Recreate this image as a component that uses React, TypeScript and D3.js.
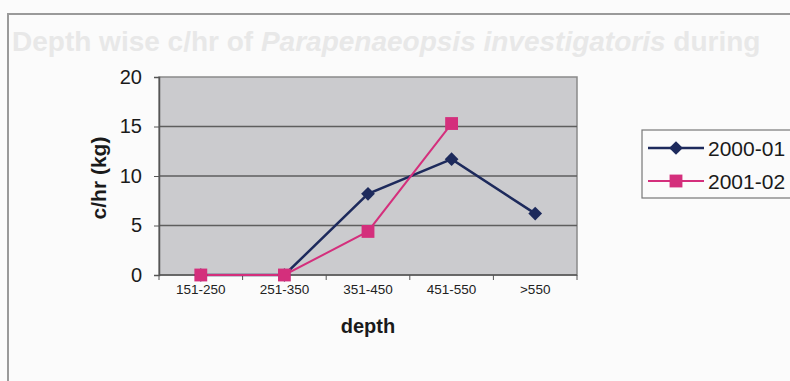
import React, { useEffect, useRef } from 'react';
import * as d3 from 'd3';

const categories = ['151-250', '251-350', '351-450', '451-550', '>550'];
const series2000 = [0, 0, 8.2, 11.7, 6.2];
const series2001 = [0, 0, 4.4, 15.3];
const yTicks = [0, 5, 10, 15, 20];
const seriesNames = ['2000-01', '2001-02'];

const WIDTH = 790;
const HEIGHT = 381;
const PLOT = { left: 159, right: 577, top: 77, bottom: 275 };
const NAVY = '#1d2a5c';
const PINK = '#d42f7c';

const App = () => {
    const ref = useRef<SVGSVGElement>(null);

    useEffect(() => {
        const svg = d3.select(ref.current);
        svg.selectAll('*').remove();

        svg.append('rect')
            .attr('width', WIDTH)
            .attr('height', HEIGHT)
            .attr('fill', '#fbfbfb');

        // ghost text showing through from the scanned page
        const ghost = svg.append('text')
            .attr('x', 12)
            .attr('y', 51)
            .style('font-family', 'Liberation Sans, Arial, sans-serif')
            .style('font-size', '28px')
            .style('font-weight', 'bold')
            .attr('fill', '#e8e8e8');
        ghost.append('tspan').text('Depth wise c/hr of ');
        ghost.append('tspan').style('font-style', 'italic').text('Parapenaeopsis investigatoris');
        ghost.append('tspan').text(' during');

        // outer frame
        svg.append('path')
            .attr('d', `M8,${HEIGHT + 5} V14 H${WIDTH + 5}`)
            .attr('fill', 'none')
            .attr('stroke', '#9a9a9a')
            .attr('stroke-width', 2);

        const x = d3.scaleBand<string>()
            .domain(categories)
            .range([PLOT.left, PLOT.right]);

        const y = d3.scaleLinear()
            .domain([0, 20])
            .range([PLOT.bottom, PLOT.top]);

        // plot area
        svg.append('rect')
            .attr('x', PLOT.left)
            .attr('y', PLOT.top)
            .attr('width', PLOT.right - PLOT.left)
            .attr('height', PLOT.bottom - PLOT.top)
            .attr('fill', '#cbcbce')
            .attr('stroke', '#8a8a8a')
            .attr('stroke-width', 1.5);

        // gridlines
        svg.append('g')
            .selectAll('line')
            .data(yTicks.filter(d => d > 0 && d < 20))
            .enter().append('line')
            .attr('x1', PLOT.left)
            .attr('x2', PLOT.right)
            .attr('y1', d => y(d))
            .attr('y2', d => y(d))
            .attr('stroke', '#5e5e5e')
            .attr('stroke-width', 1.6);

        // y axis
        const yAxis = svg.append('g')
            .attr('transform', `translate(${PLOT.left},0)`)
            .call(d3.axisLeft(y).tickValues(yTicks).tickSize(5).tickPadding(12));
        yAxis.select('.domain').attr('stroke', '#555').attr('stroke-width', 1.5);
        yAxis.selectAll('line').attr('stroke', '#555');
        yAxis.selectAll('text')
            .style('font-family', 'Liberation Sans, Arial, sans-serif')
            .style('font-size', '20px')
            .attr('fill', '#1a1a1a');

        // x axis, ticks between categories
        const xAxisG = svg.append('g')
            .attr('transform', `translate(0,${PLOT.bottom})`);
        xAxisG.append('line')
            .attr('x1', PLOT.left)
            .attr('x2', PLOT.right)
            .attr('stroke', '#555')
            .attr('stroke-width', 1.5);
        xAxisG.selectAll('.tk')
            .data(categories.concat(['end']))
            .enter().append('line')
            .attr('x1', (d, i) => PLOT.left + i * x.bandwidth())
            .attr('x2', (d, i) => PLOT.left + i * x.bandwidth())
            .attr('y1', 0)
            .attr('y2', 5)
            .attr('stroke', '#555');
        xAxisG.selectAll('text')
            .data(categories)
            .enter().append('text')
            .attr('x', d => x(d)! + x.bandwidth() / 2)
            .attr('y', 19)
            .attr('text-anchor', 'middle')
            .style('font-family', 'Liberation Sans, Arial, sans-serif')
            .style('font-size', '13.5px')
            .attr('fill', '#222')
            .text(d => d);

        // axis titles
        svg.append('text')
            .attr('transform', `translate(106,${(PLOT.top + PLOT.bottom) / 2 + 2}) rotate(-90)`)
            .attr('text-anchor', 'middle')
            .style('font-family', 'Liberation Sans, Arial, sans-serif')
            .style('font-size', '21px')
            .style('font-weight', 'bold')
            .attr('fill', '#1a1a1a')
            .text('c/hr (kg)');

        svg.append('text')
            .attr('x', (PLOT.left + PLOT.right) / 2)
            .attr('y', 333)
            .attr('text-anchor', 'middle')
            .style('font-family', 'Liberation Sans, Arial, sans-serif')
            .style('font-size', '20px')
            .style('font-weight', 'bold')
            .attr('fill', '#1a1a1a')
            .text('depth');

        const cx = (i: number) => x(categories[i])! + x.bandwidth() / 2;

        const line = d3.line<number>()
            .x((d, i) => cx(i))
            .y(d => y(d));

        // 2000-01 series
        svg.append('path')
            .datum(series2000)
            .attr('fill', 'none')
            .attr('stroke', NAVY)
            .attr('stroke-width', 2.5)
            .attr('d', line);

        // 2001-02 series
        svg.append('path')
            .datum(series2001)
            .attr('fill', 'none')
            .attr('stroke', PINK)
            .attr('stroke-width', 2)
            .attr('d', line);

        const diamond = d3.symbol().type(d3.symbolDiamond2).size(120);
        const square = d3.symbol().type(d3.symbolSquare).size(165);

        svg.append('g')
            .selectAll('path')
            .data(series2000)
            .enter().append('path')
            .attr('d', diamond)
            .attr('transform', (d, i) => `translate(${cx(i)},${y(d)})`)
            .attr('fill', NAVY);

        svg.append('g')
            .selectAll('path')
            .data(series2001)
            .enter().append('path')
            .attr('d', square)
            .attr('transform', (d, i) => `translate(${cx(i)},${y(d)})`)
            .attr('fill', PINK);

        // legend
        const legend = svg.append('g');
        legend.append('rect')
            .attr('x', 642)
            .attr('y', 130)
            .attr('width', 160)
            .attr('height', 68)
            .attr('fill', '#fbfbfb')
            .attr('stroke', '#777')
            .attr('stroke-width', 1.2);
        const colors = [NAVY, PINK];
        const symbols = [diamond, square];
        seriesNames.forEach((name, i) => {
            const ly = 148 + i * 33;
            legend.append('line')
                .attr('x1', 648)
                .attr('x2', 704)
                .attr('y1', ly)
                .attr('y2', ly)
                .attr('stroke', colors[i])
                .attr('stroke-width', i === 0 ? 2.5 : 2);
            legend.append('path')
                .attr('d', symbols[i])
                .attr('transform', `translate(676,${ly})`)
                .attr('fill', colors[i]);
            legend.append('text')
                .attr('x', 708)
                .attr('y', ly + 8)
                .style('font-family', 'Liberation Sans, Arial, sans-serif')
                .style('font-size', '21px')
                .attr('fill', '#1a1a1a')
                .text(name);
        });
    }, []);

    return (
        <svg ref={ref} width={WIDTH} height={HEIGHT}
            style={{ position: 'absolute', left: 0, top: 0 }} />
    );
};

export default App;
